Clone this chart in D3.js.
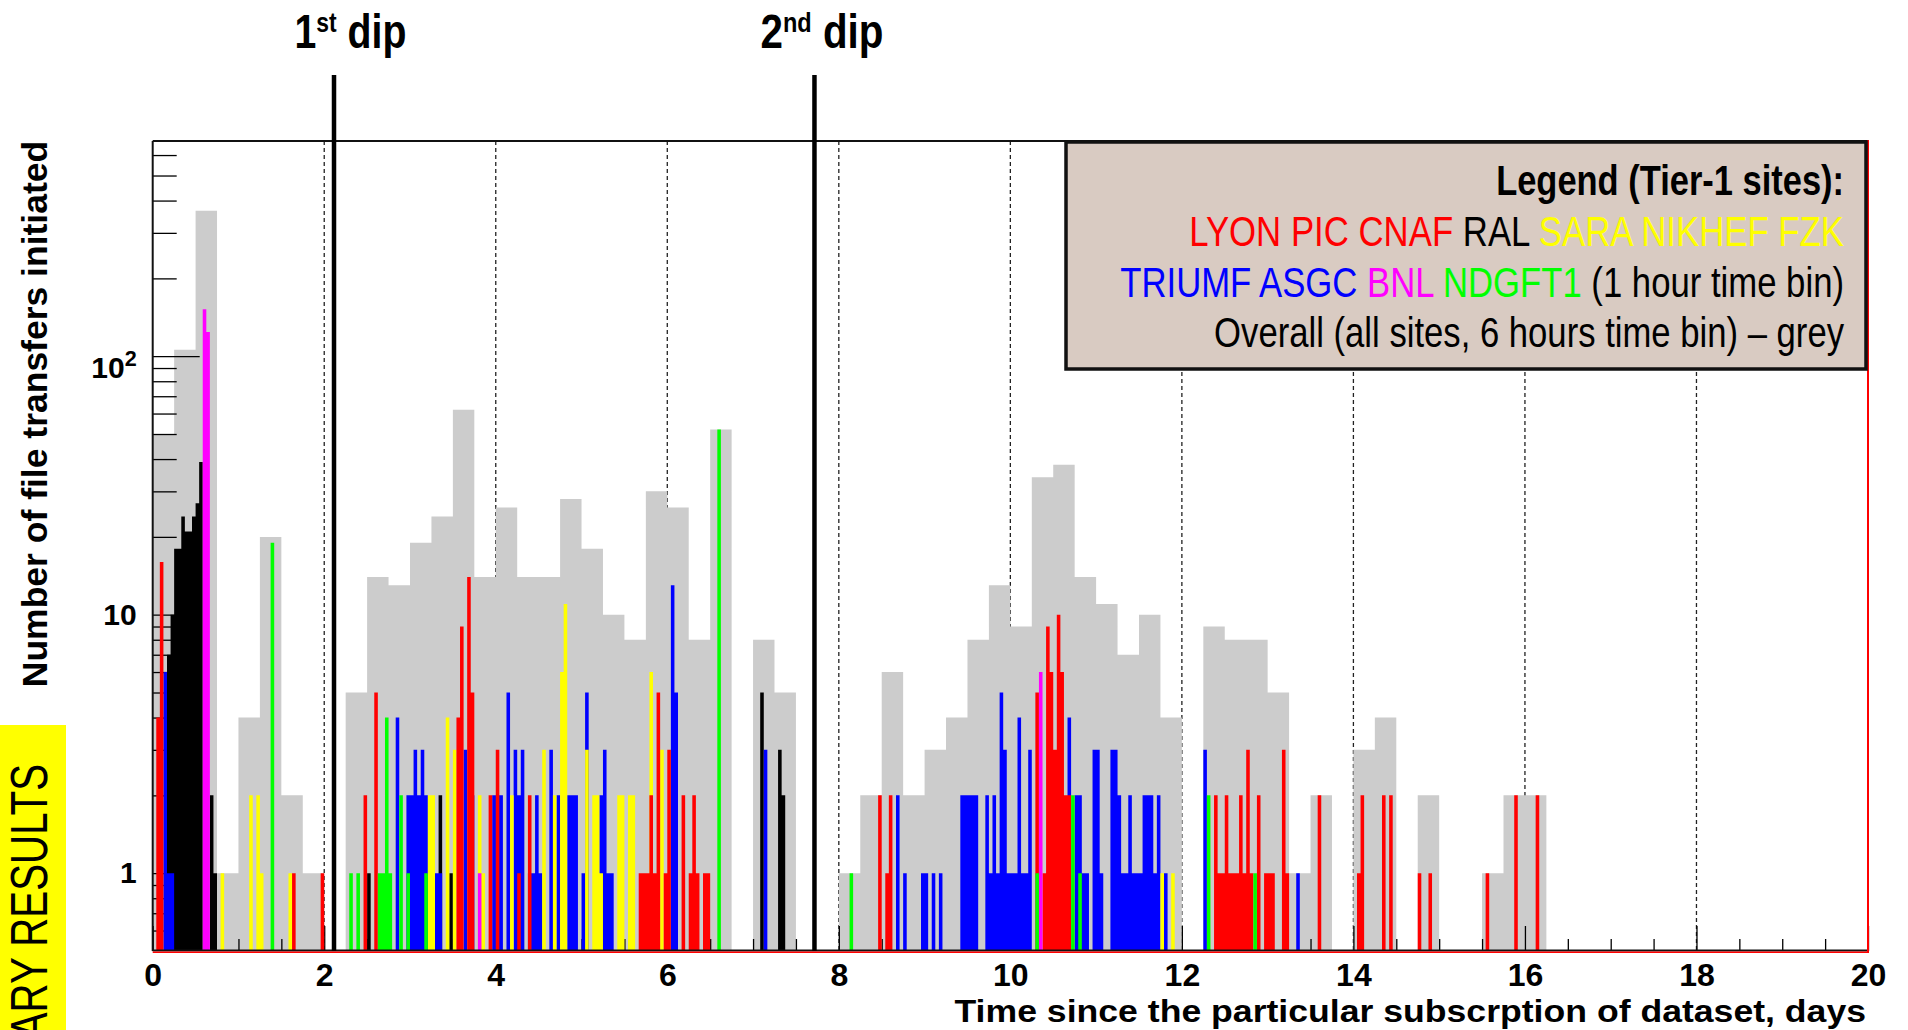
<!DOCTYPE html>
<html>
<head>
<meta charset="utf-8">
<script src="https://cdn.jsdelivr.net/npm/d3@7"></script>
<style>
  html, body { margin: 0; padding: 0; background: #fff; }
  svg { display: block; }
  text { white-space: pre; }
</style>
</head>
<body>
<svg id="chart" width="1908" height="1030"></svg>
<script>
// overall, all sites, 6 hour bins from day 0 to day 20
const overallCounts = [
  50, 106, 365, 1, 4, 20, 2, 1, 0, 5,
  14, 13, 19, 24, 62, 14, 26, 14, 14, 28,
  18, 10, 8, 30, 26, 8, 52, 0, 8, 5,
  0, 0, 1, 2, 6, 2, 3, 4, 8, 13,
  9, 34, 38, 14, 11, 7, 10, 4, 0, 9,
  8, 8, 5, 1, 2, 0, 3, 4, 0, 2,
  0, 0, 1, 2, 2, 0, 0, 0, 0, 0,
  0, 0, 0, 0, 0, 0, 0, 0, 0, 0
];

// tier-1 sites, 1 hour bins: [hour index, transfers]
const lyonPicCnaf = [[1,4],[2,16],[39,1],[47,1],[59,2],[62,5],[85,4],[86,9],[88,14],[89,5],[94,2],[96,3],[102,1],[105,2],
  [136,1],[137,1],[138,1],[139,2],[140,1],[141,5],[143,1],[144,3],[148,2],[150,1],[151,2],[152,1],[154,1],[155,1],
  [203,2],[205,1],[206,2],[247,5],[249,1],[250,9],[251,6],[252,3],[253,10],[254,6],[255,2],[256,2],
  [297,2],[298,1],[299,1],[300,2],[301,1],[302,1],[303,1],[304,2],[305,1],[306,3],[307,1],[309,2],[311,1],[312,1],[313,1],
  [316,3],[317,1],[326,2],[337,1],[338,2],[344,2],[346,2],[354,1],[357,1],[373,1],[381,2],[387,2]];
const ral = [[4,7],[5,10],[6,18],[7,18],[8,24],[9,21],[10,21],[11,24],[12,27],[13,39],[16,2],[17,1],
  [60,1],[80,2],[83,1],[170,5],[175,3],[176,2]];
const saraNikhefFzk = [[19,1],[27,2],[29,2],[30,1],[38,1],[77,2],[78,2],[82,4],[84,3],[91,2],[92,1],[100,2],
  [109,3],[112,2],[114,6],[115,11],[121,3],[123,2],[124,2],[125,1],[130,2],[131,2],[133,2],[134,2],[139,6],[142,3],
  [282,1],[285,1]];
const triumfAsgc = [[3,6],[4,1],[5,1],[68,4],[71,2],[72,2],[73,3],[74,2],[75,3],[76,2],[79,1],[80,1],[87,3],[89,2],
  [95,2],[96,2],[97,2],[99,5],[101,3],[102,2],[103,3],[105,1],[106,1],[107,2],[108,1],[111,3],[113,2],[116,2],[117,2],
  [118,2],[120,1],[121,5],[125,2],[126,3],[127,1],[128,1],[145,13],[146,5],[171,3],[208,2],[210,1],[215,1],[216,1],
  [218,1],[220,1],[226,2],[227,2],[228,2],[229,2],[230,2],[233,2],[234,1],[235,2],[236,1],[237,5],[238,3],[239,1],
  [240,1],[241,1],[242,4],[243,1],[244,1],[245,3],[256,4],[258,2],[259,2],[260,1],[261,1],[263,3],[264,3],[265,1],
  [268,3],[269,3],[270,2],[271,1],[272,1],[273,2],[274,1],[275,1],[276,1],[277,2],[278,2],[279,2],[280,1],[281,2],
  [283,1],[294,3],[320,1]];
const bnl = [[14,152],[15,124],[91,1],[248,6]];
const ndgft1 = [[33,19],[55,1],[57,1],[63,1],[64,1],[65,4],[66,1],[69,2],[71,1],[76,1],[158,52],[195,1],[247,1],
  [257,2],[259,1],[295,2],[308,1]];

const xMajorTicks = [0, 2, 4, 6, 8, 10, 12, 14, 16, 18, 20];
const yMajorTicks = [1, 10, 100];
const yMinorTicks = [0.6, 0.7, 0.8, 0.9, 2, 3, 4, 5, 6, 7, 8, 9, 20, 30, 40, 50, 60, 70, 80, 90, 200, 300, 400, 500, 600];
const dipDays = [2.114, 7.716];
const dipLabels = [["1", "st"], ["2", "nd"]];

const red = "#ff0000", yellow = "#ffff00", blue = "#0000ff", magenta = "#ff00ff", green = "#00ff00";

// drawn in this order, later ones on top
const sites = [
  {name: "RAL", color: "#000000", bins: ral},
  {name: "TRIUMF ASGC", color: blue, bins: triumfAsgc},
  {name: "SARA NIKHEF FZK", color: yellow, bins: saraNikhefFzk},
  {name: "LYON PIC CNAF", color: red, bins: lyonPicCnaf},
  {name: "BNL", color: magenta, bins: bnl},
  {name: "NDGFT1", color: green, bins: ndgft1}
];

const legendLines = [
  [["Legend (Tier-1 sites):", "#000"]],
  [["LYON PIC CNAF ", red], ["RAL ", "#000"], ["SARA NIKHEF FZK", yellow]],
  [["TRIUMF ASGC ", blue], ["BNL ", magenta], ["NDGFT1 ", green], ["(1 hour time bin)", "#000"]],
  [["Overall (all sites, 6 hours time bin) \u2013 grey", "#000"]]
];

const plot = {left: 152.7, right: 1868, top: 141, bottom: 951};
const sans = "'Liberation Sans', Arial, Helvetica, sans-serif";
const narrow = "'Liberation Sans Narrow', 'Liberation Sans', Arial, sans-serif";

const x = d3.scaleLinear().domain([0, 20]).range([plot.left, plot.right]);
const y = d3.scaleLog().domain([0.5, 680]).range([plot.bottom, plot.top]);

const svg = d3.select("#chart");

function histPath(pairs, binDays) {
  const p = d3.path();
  pairs.forEach(([i, v]) => {
    if (v <= 0) return;
    const x0 = x(i * binDays), x1 = x((i + 1) * binDays);
    p.rect(x0, y(v), x1 - x0, y(0.5) - y(v));
  });
  return p.toString();
}

// grid
svg.append("g").selectAll("line")
  .data(d3.range(2, 20, 2))
  .join("line")
  .attr("x1", d => x(d)).attr("x2", d => x(d))
  .attr("y1", plot.top).attr("y2", plot.bottom)
  .attr("stroke", "#222").attr("stroke-width", 1.3).attr("stroke-dasharray", "4,3");

// overall histogram
svg.append("path")
  .attr("d", histPath(overallCounts.map((v, i) => [i, v]), 0.25))
  .attr("fill", "#cccccc");

// axes
const gx = svg.append("g").attr("transform", `translate(0,${plot.bottom})`)
  .call(d3.axisBottom(x).tickValues(xMajorTicks).tickSize(-25).tickSizeOuter(0)
    .tickPadding(12).tickFormat(d3.format("d")));
gx.select(".domain").remove();
gx.attr("font-family", sans).attr("font-size", 32).attr("font-weight", "bold");
gx.selectAll("line").attr("stroke-width", 1.3);

const gxm = svg.append("g").attr("transform", `translate(0,${plot.bottom})`)
  .call(d3.axisBottom(x).tickValues(d3.range(0.5, 20, 0.5).filter(d => d % 2 !== 0))
    .tickSize(-12).tickSizeOuter(0).tickFormat(""));
gxm.select(".domain").remove();
gxm.selectAll("line").attr("stroke-width", 1.3);

const gy = svg.append("g").attr("transform", `translate(${plot.left},0)`)
  .call(d3.axisLeft(y).tickValues(yMajorTicks).tickSize(-47).tickSizeOuter(0)
    .tickPadding(16).tickFormat(d => d === 100 ? "" : d3.format("d")(d)));
gy.select(".domain").remove();
gy.attr("font-family", sans).attr("font-size", 30).attr("font-weight", "bold");
gy.selectAll("line").attr("stroke-width", 1.3);
gy.selectAll(".tick").filter(d => d === 100).select("text")
  .attr("dy", "0.7em")
  .call(t => {
    t.append("tspan").text("10");
    t.append("tspan").attr("dy", "-0.55em").attr("font-size", "0.72em").text("2");
  });

const gym = svg.append("g").attr("transform", `translate(${plot.left},0)`)
  .call(d3.axisLeft(y).tickValues(yMinorTicks).tickSize(-24).tickSizeOuter(0).tickFormat(""));
gym.select(".domain").remove();
gym.selectAll("line").attr("stroke-width", 1.3);

// tier-1 site histograms
svg.append("g").selectAll("path")
  .data(sites)
  .join("path")
  .attr("d", d => histPath(d.bins, 1 / 24))
  .attr("fill", d => d.color);

// frame
svg.append("line").attr("x1", plot.left).attr("x2", plot.right).attr("y1", plot.top).attr("y2", plot.top)
  .attr("stroke", "#111").attr("stroke-width", 2);
svg.append("line").attr("x1", plot.left).attr("x2", plot.left).attr("y1", plot.top).attr("y2", plot.bottom)
  .attr("stroke", "#111").attr("stroke-width", 2);
svg.append("line").attr("x1", plot.left).attr("x2", plot.right).attr("y1", plot.bottom - 0.5).attr("y2", plot.bottom - 0.5)
  .attr("stroke", "#111").attr("stroke-width", 2);
svg.append("line").attr("x1", plot.left).attr("x2", plot.right + 1).attr("y1", plot.bottom + 1.2).attr("y2", plot.bottom + 1.2)
  .attr("stroke", red).attr("stroke-width", 1.6);
svg.append("line").attr("x1", plot.right).attr("x2", plot.right).attr("y1", plot.top - 1).attr("y2", plot.bottom + 2)
  .attr("stroke", red).attr("stroke-width", 2);

// dips
svg.append("g").selectAll("line")
  .data(dipDays)
  .join("line")
  .attr("x1", d => x(d)).attr("x2", d => x(d))
  .attr("y1", 75).attr("y2", plot.bottom)
  .attr("stroke", "#000").attr("stroke-width", 4.5);

const dipLabelX = [350.5, 822];
const dipLabelW = [112, 123];
dipLabels.forEach((lab, i) => {
  const t = svg.append("text")
    .attr("font-family", narrow).attr("font-size", 48).attr("font-weight", "bold")
    .attr("text-anchor", "middle");
  t.append("tspan").text(lab[0]);
  t.append("tspan").attr("dy", -16).attr("font-size", 28).text(lab[1]);
  t.append("tspan").attr("dy", 16).text(" dip");
  const w = t.node().getComputedTextLength();
  t.attr("transform", `translate(${dipLabelX[i]},48) scale(${dipLabelW[i] / w},1)`);
});

// legend
svg.append("rect")
  .attr("x", 1066).attr("y", 142).attr("width", 800).attr("height", 227)
  .attr("fill", "#d9cbc2").attr("stroke", "#111").attr("stroke-width", 3.5);

const legendBase = [195, 245.5, 296.5, 347];
const legendW = [348, 655, 724, 630];
legendLines.forEach((parts, i) => {
  const t = svg.append("text")
    .attr("font-family", narrow).attr("font-size", 42).attr("text-anchor", "end")
    .attr("font-weight", i === 0 ? "bold" : "normal");
  parts.forEach(([s, c]) => t.append("tspan").attr("fill", c).text(s));
  const w = t.node().getComputedTextLength();
  t.attr("transform", `translate(1844,${legendBase[i]}) scale(${legendW[i] / w},1)`);
});

// axis titles
const xt = svg.append("text")
  .attr("font-family", sans).attr("font-size", 31).attr("font-weight", "bold")
  .attr("text-anchor", "end")
  .text("Time since the particular subscrption of dataset, days");
const xtw = xt.node().getComputedTextLength();
xt.attr("transform", `translate(1866,1022) scale(${912 / xtw},1)`);

svg.append("text")
  .attr("font-family", sans).attr("font-size", 35.5).attr("font-weight", "bold")
  .attr("text-anchor", "middle")
  .attr("transform", "translate(46.5,414) rotate(-90)")
  .text("Number of file transfers initiated");

// preliminary banner (cut by the page edge, as in the original slide)
svg.append("rect").attr("x", 0).attr("y", 725).attr("width", 66).attr("height", 305).attr("fill", yellow);
svg.append("text")
  .attr("font-family", sans).attr("font-size", 51).attr("text-anchor", "end")
  .attr("transform", "translate(46.7,764) rotate(-90) scale(0.79,1)")
  .text("PRELIMINARY RESULTS");
</script>
</body>
</html>
